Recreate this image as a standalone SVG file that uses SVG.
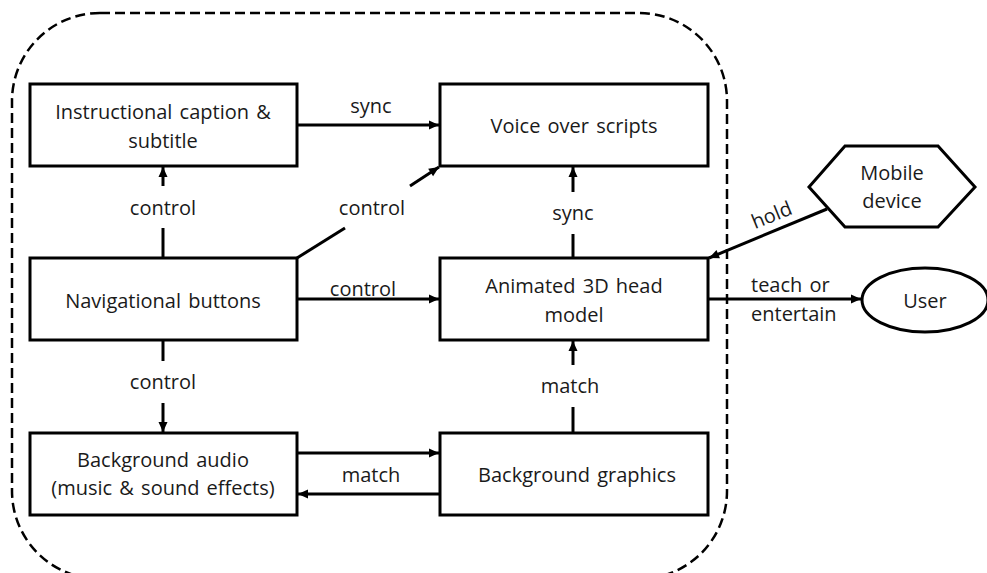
<svg xmlns="http://www.w3.org/2000/svg" width="987" height="573" viewBox="0 0 987 573">
<style>
  .box { fill: #fff; stroke: #000; stroke-width: 3; }
  .t { font-family: "Open Sans", "Liberation Sans", sans-serif; font-size: 20px; word-spacing: 2px; fill: #1a1a1a; text-anchor: middle; }
  .c { stroke: #000; stroke-width: 3; fill: none; }
  .border { fill: none; stroke: #000; stroke-width: 2.5; stroke-dasharray: 10 5; }
</style>
<defs>
  <marker id="ah" markerUnits="userSpaceOnUse" markerWidth="12" markerHeight="12" viewBox="0 0 12 12" refX="11" refY="6" orient="auto">
    <path d="M1,1.5 L11,6 L1,10.5 Z" fill="#000"/>
  </marker>
</defs>
<rect width="987" height="573" fill="#fff"/>
<rect id="boundary" class="border" x="12" y="13" width="715" height="566" rx="88" ry="88"/>

<g id="connectors">
  <line class="c" x1="297" y1="125" x2="439" y2="125" marker-end="url(#ah)"/>
  <path class="c" d="M163,258 V228"/>
  <line class="c" x1="163" y1="186" x2="163" y2="167" marker-end="url(#ah)"/>
  <path class="c" d="M297,258 L345,228"/>
  <line class="c" x1="410" y1="186" x2="439" y2="167" marker-end="url(#ah)"/>
  <line class="c" x1="297" y1="299" x2="439" y2="299" marker-end="url(#ah)"/>
  <path class="c" d="M163,340 V361"/>
  <line class="c" x1="163" y1="403" x2="163" y2="432" marker-end="url(#ah)"/>
  <line class="c" x1="297" y1="453" x2="439" y2="453" marker-end="url(#ah)"/>
  <line class="c" x1="440" y1="494" x2="298" y2="494" marker-end="url(#ah)"/>
  <path class="c" d="M573,433 V407"/>
  <line class="c" x1="573" y1="365" x2="573" y2="341" marker-end="url(#ah)"/>
  <path class="c" d="M573,258 V234"/>
  <line class="c" x1="573" y1="192" x2="573" y2="167" marker-end="url(#ah)"/>
  <line class="c" x1="827" y1="209" x2="709" y2="258" marker-end="url(#ah)"/>
  <line class="c" x1="708" y1="299" x2="861" y2="299" marker-end="url(#ah)"/>
  <text class="t" x="371" y="113">sync</text>
  <text class="t" x="163" y="215">control</text>
  <text class="t" x="372" y="215">control</text>
  <text class="t" x="363" y="296">control</text>
  <text class="t" x="163" y="389">control</text>
  <text class="t" x="371" y="482">match</text>
  <text class="t" x="570" y="393">match</text>
  <text class="t" x="573" y="220">sync</text>
  <text class="t" x="772" y="222" transform="rotate(-22 772 216)">hold</text>
  <text class="t" x="751" y="292" style="text-anchor:start">teach or</text>
  <text class="t" x="751" y="321" style="text-anchor:start">entertain</text>
</g>

<g id="instructional">
  <rect class="box" x="30" y="84" width="267" height="82"/>
  <text class="t" x="163" y="119">Instructional caption &amp;</text>
  <text class="t" x="163" y="148">subtitle</text>
</g>
<g id="voice">
  <rect class="box" x="440" y="84" width="268" height="82"/>
  <text class="t" x="574" y="133">Voice over scripts</text>
</g>
<g id="navigational">
  <rect class="box" x="30" y="258" width="267" height="82"/>
  <text class="t" x="163" y="308">Navigational buttons</text>
</g>
<g id="animated">
  <rect class="box" x="440" y="258" width="268" height="82"/>
  <text class="t" x="574" y="293">Animated 3D head</text>
  <text class="t" x="574" y="322">model</text>
</g>
<g id="audio">
  <rect class="box" x="30" y="433" width="267" height="82"/>
  <text class="t" x="163" y="467">Background audio</text>
  <text class="t" x="163" y="495">(music &amp; sound effects)</text>
</g>
<g id="graphics">
  <rect class="box" x="440" y="433" width="268" height="82"/>
  <text class="t" x="577" y="482">Background graphics</text>
</g>
<g id="mobile">
  <polygon class="box" points="809,187 845,146 938,146 975,187 938,227 845,227"/>
  <text class="t" x="892" y="180">Mobile</text>
  <text class="t" x="892" y="208">device</text>
</g>
<g id="user">
  <ellipse class="box" cx="925" cy="300" rx="63" ry="32"/>
  <text class="t" x="925" y="308">User</text>
</g>
</svg>
